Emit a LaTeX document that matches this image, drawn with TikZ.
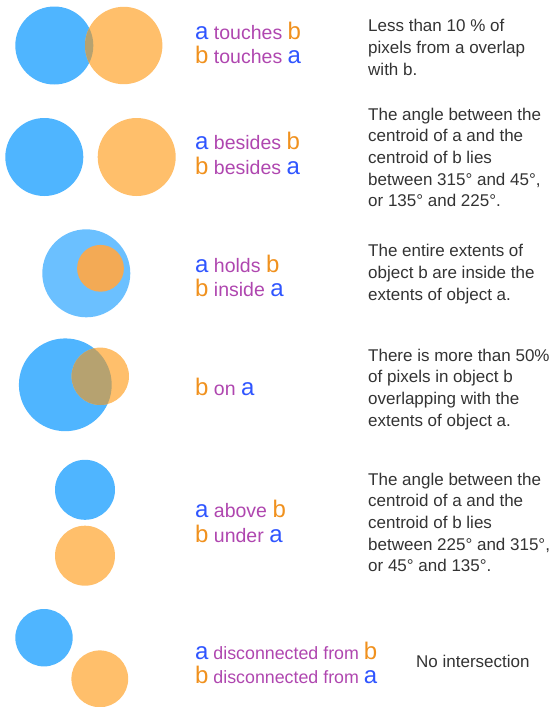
\documentclass[tikz,border=0pt]{standalone}
\usepackage{fontspec}
\setmainfont{Liberation Sans}
\usetikzlibrary{positioning}

\definecolor{discA}{HTML}{4FB5FF}
\definecolor{discB}{HTML}{FFBF6B}
\definecolor{discAB}{HTML}{B6A270}
\definecolor{discAlight}{HTML}{6BC0FF}
\definecolor{discBdark}{HTML}{F3AA55}
\definecolor{txtA}{HTML}{2F55FF}
\definecolor{txtB}{HTML}{F0911E}
\definecolor{txtRel}{HTML}{AF46AF}
\definecolor{txtDesc}{HTML}{333333}

\newcommand{\objA}{{\fontsize{24}{24}\selectfont\color{txtA}a}}
\newcommand{\objB}{{\fontsize{24}{24}\selectfont\color{txtB}b}}

\begin{document}
\begin{tikzpicture}[x=1pt, y=-1pt,
  rel/.style={anchor=base west, inner sep=0pt, text=txtRel, font=\fontsize{19.5}{24}\selectfont},
  relsmall/.style={rel, font=\fontsize{17.8}{24}\selectfont},
  desc/.style={anchor=north west, inner sep=0pt, align=left, text=txtDesc, font=\fontsize{17}{21.7}\selectfont}]
\useasboundingbox (0,0) rectangle (555,707);

% touches
\fill[discA] (54.3,45.5) circle (39);
\fill[discB] (123.7,45.5) circle (38.7);
\begin{scope}
  \clip (54.3,45.5) circle (39);
  \fill[discAB] (123.7,45.5) circle (38.7);
\end{scope}
\node[rel] (touchesAB) at (195,39) {\objA{} touches \objB};
\node[rel] (touchesBA) at (195,63.3) {\objB{} touches \objA};
\node[desc] (touchesDesc) at (368,19.3) {Less than 10 \% of\\pixels from a overlap\\with b.};

% besides
\fill[discA] (44.3,157) circle (39);
\fill[discB] (136.7,157) circle (39);
\node[rel] (besidesAB) at (195,149) {\objA{} besides \objB};
\node[rel] (besidesBA) at (195,174) {\objB{} besides \objA};
\node[desc] (besidesDesc) at (368,107.6) {The angle between the\\centroid of a and the\\centroid of b lies\\between 315° and 45°,\\or 135° and 225°.};

% holds / inside
\fill[discAlight] (86.3,273.3) circle (44);
\fill[discBdark] (100.5,268.3) circle (23.4);
\node[rel] (holdsAB) at (195,272.7) {\objA{} holds \objB};
\node[rel] (insideBA) at (195,296.7) {\objB{} inside \objA};
\node[desc] (holdsDesc) at (368,244.3) {The entire extents of\\object b are inside the\\extents of object a.};

% on
\fill[discA] (65.3,384.8) circle (46.4);
\fill[discB] (100.3,376.3) circle (28.7);
\begin{scope}
  \clip (65.3,384.8) circle (46.4);
  \fill[discAB] (100.3,376.3) circle (28.7);
\end{scope}
\node[rel] (onBA) at (195,395.7) {\objB{} on \objA};
\node[desc] (onDesc) at (368,348.6) {There is more than 50\%\\of pixels in object b\\overlapping with the\\extents of object a.};

% above / under
\fill[discA] (85,489.8) circle (30);
\fill[discB] (85,555.7) circle (30);
\node[rel] (aboveAB) at (195,517.7) {\objA{} above \objB};
\node[rel] (underBA) at (195,542.3) {\objB{} under \objA};
\node[desc] (aboveDesc) at (368,472.6) {The angle between the\\centroid of a and the\\centroid of b lies\\between 225° and 315°,\\or 45° and 135°.};

% disconnected
\fill[discA] (44,637.7) circle (28.7);
\fill[discB] (99.8,678.8) circle (28.4);
\node[relsmall] (discoAB) at (195,659) {\objA{} disconnected from \objB};
\node[relsmall] (discoBA) at (195,683.3) {\objB{} disconnected from \objA};
\node[desc] (discoDesc) at (416,655.3) {No intersection};
\end{tikzpicture}
\end{document}
